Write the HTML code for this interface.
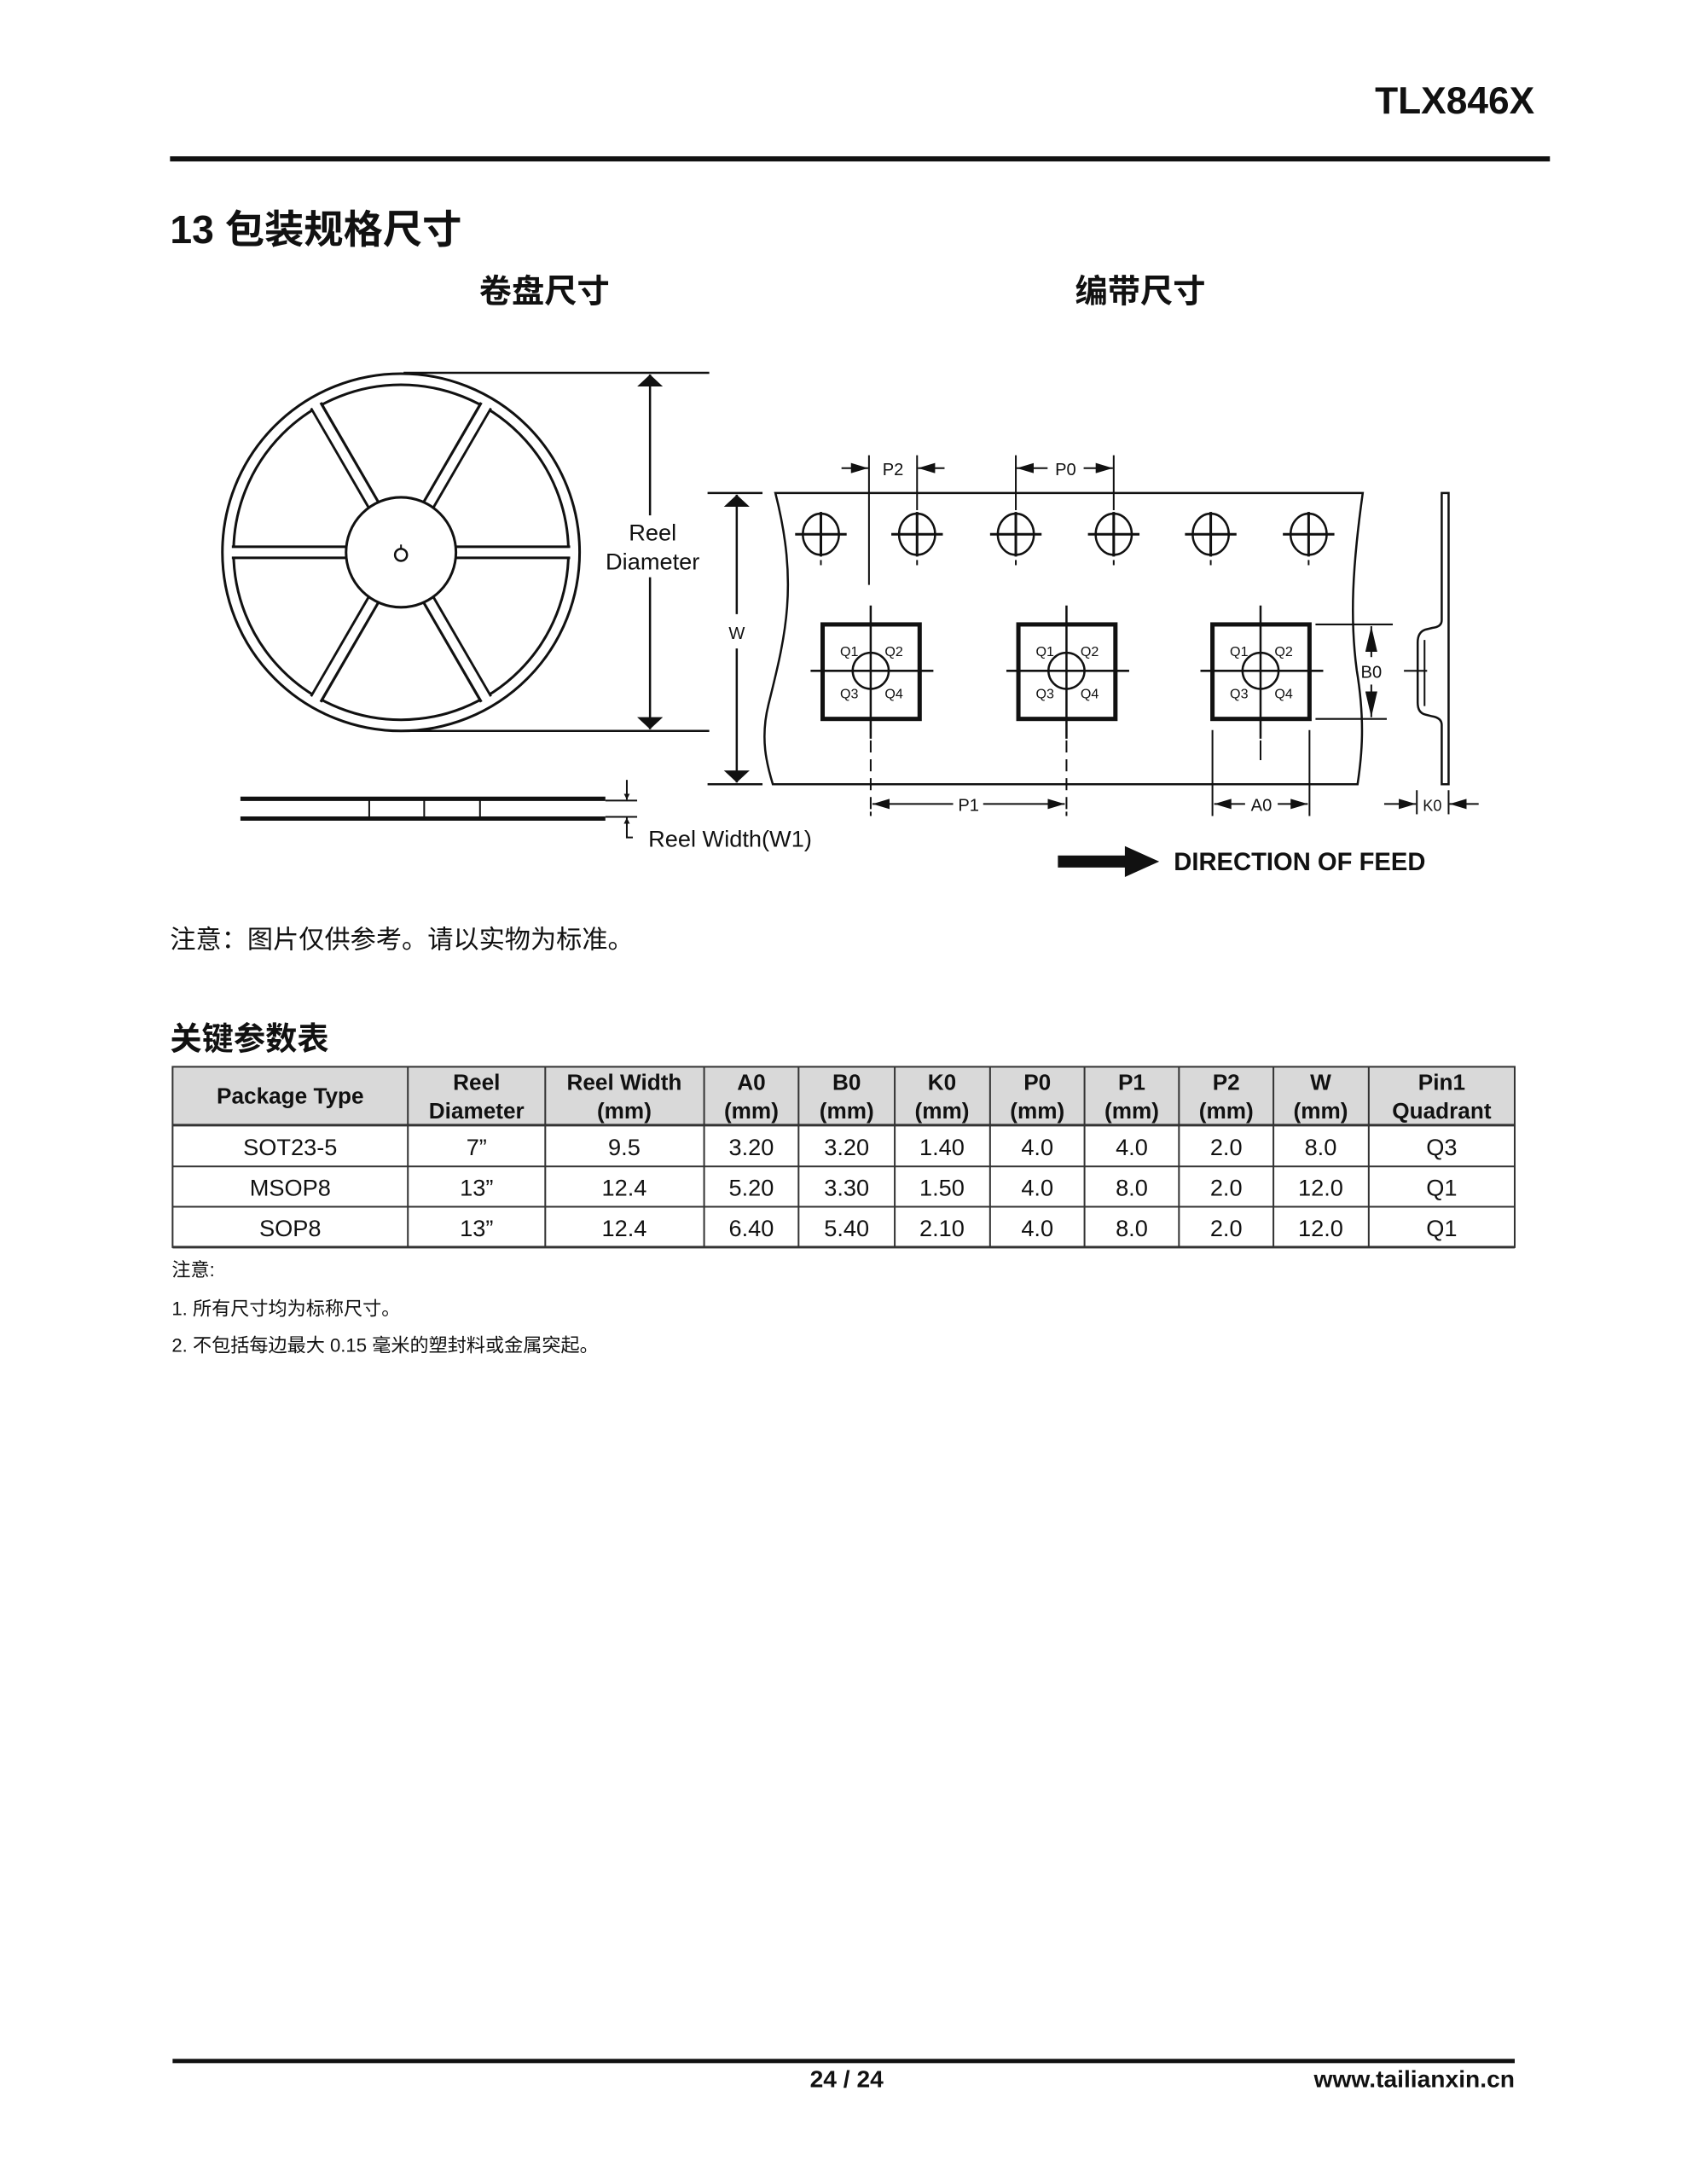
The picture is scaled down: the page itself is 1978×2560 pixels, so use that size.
<!DOCTYPE html>
<html><head><meta charset="utf-8"><style>
html,body{margin:0;padding:0;background:#fff}
svg{display:block}
text{font-family:"Liberation Sans","Noto Sans CJK SC",sans-serif;fill:#111}
</style></head><body>
<svg width="1978" height="2560" viewBox="0 0 1978 2560" xmlns="http://www.w3.org/2000/svg">
<defs>
<marker id="ah" viewBox="0 0 10 10" refX="10" refY="5" markerWidth="7" markerHeight="7" markerUnits="userSpaceOnUse" orient="auto-start-reverse">
<path d="M0,0 L10,5 L0,10 z" fill="#111"/></marker>
<marker id="ahs" viewBox="0 0 10 10" refX="10" refY="5" markerWidth="20" markerHeight="12" markerUnits="userSpaceOnUse" orient="auto-start-reverse" preserveAspectRatio="none">
<path d="M0,0 L10,5 L0,10 z" fill="#111"/></marker>
<marker id="ahb" viewBox="0 0 10 10" refX="10" refY="5" markerWidth="14" markerHeight="30" markerUnits="userSpaceOnUse" orient="auto-start-reverse" preserveAspectRatio="none">
<path d="M0,0 L10,5 L0,10 z" fill="#111"/></marker>
<marker id="ahv" viewBox="0 0 10 10" refX="10" refY="5" markerWidth="30" markerHeight="14" markerUnits="userSpaceOnUse" orient="auto-start-reverse" preserveAspectRatio="none">
<path d="M0,0 L10,5 L0,10 z" fill="#111"/></marker>
</defs>
<g transform="scale(1.0068)">
<!-- header -->
<text x="1787" y="132" text-anchor="end" font-size="44" font-weight="bold">TLX846X</text>
<rect x="198" y="182" width="1607" height="6" fill="#111"/>
<text x="198" y="283" font-size="46" font-weight="bold">13 包装规格尺寸</text>
<text x="634" y="352" text-anchor="middle" font-size="38" font-weight="bold">卷盘尺寸</text>
<text x="1328" y="352" text-anchor="middle" font-size="38" font-weight="bold">编带尺寸</text>

<!-- reel -->
<g stroke="#111" fill="none">
<circle cx="467" cy="643" r="208" stroke-width="3"/>
<circle cx="467" cy="643" r="195" stroke-width="3"/>
<g stroke-width="16" stroke-linecap="butt">
<line x1="467" y1="643" x2="664" y2="643"/><line x1="467" y1="643" x2="270" y2="643"/>
<line x1="467" y1="643" x2="566" y2="472"/><line x1="467" y1="643" x2="368" y2="472"/>
<line x1="467" y1="643" x2="566" y2="814"/><line x1="467" y1="643" x2="368" y2="814"/>
</g>
<g stroke="#fff" stroke-width="10">
<line x1="467" y1="643" x2="667" y2="643"/><line x1="467" y1="643" x2="267" y2="643"/>
<line x1="467" y1="643" x2="568" y2="469"/><line x1="467" y1="643" x2="366" y2="469"/>
<line x1="467" y1="643" x2="568" y2="817"/><line x1="467" y1="643" x2="366" y2="817"/>
</g>
<circle cx="467" cy="643" r="64" stroke-width="3" fill="#fff"/>
<circle cx="467" cy="646" r="7" stroke-width="2.5"/>
<line x1="467" y1="634" x2="467" y2="639" stroke-width="2"/>
</g>
<!-- reel diameter dim -->
<g stroke="#111" stroke-width="2.5" fill="none">
<line x1="470" y1="434" x2="826" y2="434"/>
<line x1="470" y1="851" x2="826" y2="851"/>
<line x1="757" y1="436" x2="757" y2="600" marker-start="url(#ahb)"/>
<line x1="757" y1="672" x2="757" y2="849" marker-end="url(#ahb)"/>
</g>
<text x="760" y="629" text-anchor="middle" font-size="27">Reel</text>
<text x="760" y="663" text-anchor="middle" font-size="27">Diameter</text>
<!-- side view -->
<g stroke="#111" fill="none">
<line x1="280" y1="930" x2="705" y2="930" stroke-width="5"/>
<line x1="280" y1="953" x2="705" y2="953" stroke-width="5"/>
<line x1="705" y1="932" x2="742" y2="932" stroke-width="2"/>
<line x1="705" y1="951" x2="742" y2="951" stroke-width="2"/>
<line x1="430" y1="930" x2="430" y2="953" stroke-width="2"/>
<line x1="494" y1="930" x2="494" y2="953" stroke-width="2"/>
<line x1="559" y1="930" x2="559" y2="953" stroke-width="2"/>
<line x1="730" y1="908" x2="730" y2="931" stroke-width="2" marker-end="url(#ah)"/>
<polyline points="737,975 730,975 730,952" stroke-width="2" marker-end="url(#ah)"/>
</g>
<text x="755" y="986" font-size="27">Reel Width(W1)</text>

<!-- tape -->
<g stroke="#111" fill="none" stroke-width="2.5">
<path d="M903 574 L1587 574 C1575 660 1572 720 1580 780 C1590 840 1586 880 1581 913 L900 913 C893 890 885 860 895 820 C915 740 930 680 903 574 Z" fill="#fff"/>
<line x1="824" y1="574" x2="888" y2="574"/>
<line x1="824" y1="913" x2="888" y2="913"/>
<line x1="858" y1="576" x2="858" y2="715" marker-start="url(#ahb)"/>
<line x1="858" y1="755" x2="858" y2="911" marker-end="url(#ahb)"/>
</g>
<text x="858" y="744" text-anchor="middle" font-size="20">W</text>
<!-- sprocket holes -->
<g stroke="#111" fill="none" stroke-width="2.5">
<g id="hole"><ellipse cx="956" cy="622" rx="21" ry="24"/><line x1="926" y1="622" x2="986" y2="622" stroke-width="3"/><line x1="956" y1="596" x2="956" y2="648" stroke-width="3"/><line x1="956" y1="652" x2="956" y2="658" stroke-width="2"/></g>
<use href="#hole" x="112"/><use href="#hole" x="227"/><use href="#hole" x="341"/><use href="#hole" x="454"/><use href="#hole" x="568"/>
</g>
<!-- P2, P0 -->
<g stroke="#111" stroke-width="2" fill="none">
<line x1="1012" y1="530" x2="1012" y2="681"/>
<line x1="1068" y1="530" x2="1068" y2="594"/>
<line x1="1183" y1="530" x2="1183" y2="594"/>
<line x1="1297" y1="530" x2="1297" y2="594"/>
<line x1="980" y1="545" x2="1011" y2="545" marker-end="url(#ahs)"/>
<line x1="1100" y1="545" x2="1069" y2="545" marker-end="url(#ahs)"/>
<line x1="1184" y1="545" x2="1220" y2="545" marker-start="url(#ahs)"/>
<line x1="1262" y1="545" x2="1296" y2="545" marker-end="url(#ahs)"/>
</g>
<text x="1040" y="553" text-anchor="middle" font-size="20">P2</text>
<text x="1241" y="553" text-anchor="middle" font-size="20">P0</text>
<!-- pockets -->
<g id="pk">
<rect x="958" y="727" width="113" height="110" stroke="#111" stroke-width="5" fill="none"/>
<circle cx="1014" cy="781" r="21" stroke="#111" stroke-width="2.5" fill="none"/>
<line x1="944" y1="781" x2="1087" y2="781" stroke="#111" stroke-width="2.5"/>
<line x1="1014" y1="705" x2="1014" y2="860" stroke="#111" stroke-width="2.5"/>
<text x="989" y="764" text-anchor="middle" font-size="16">Q1</text>
<text x="1041" y="764" text-anchor="middle" font-size="16">Q2</text>
<text x="989" y="813" text-anchor="middle" font-size="16">Q3</text>
<text x="1041" y="813" text-anchor="middle" font-size="16">Q4</text>
</g>
<use href="#pk" x="228"/>
<use href="#pk" x="454"/>
<g stroke="#111" stroke-width="2" fill="none">
<line x1="1014" y1="862" x2="1014" y2="945" stroke-dasharray="14,8"/>
<line x1="1242" y1="862" x2="1242" y2="945" stroke-dasharray="14,8"/>
<line x1="1014" y1="945" x2="1014" y2="950"/><line x1="1242" y1="945" x2="1242" y2="950"/>
<line x1="1016" y1="936" x2="1110" y2="936" marker-start="url(#ahs)"/>
<line x1="1145" y1="936" x2="1240" y2="936" marker-end="url(#ahs)"/>
<line x1="1468" y1="862" x2="1468" y2="885"/>
<line x1="1412" y1="850" x2="1412" y2="950"/>
<line x1="1525" y1="850" x2="1525" y2="950"/>
<line x1="1414" y1="936" x2="1450" y2="936" marker-start="url(#ahs)"/>
<line x1="1488" y1="936" x2="1523" y2="936" marker-end="url(#ahs)"/>
<line x1="1532" y1="727" x2="1622" y2="727"/>
<line x1="1532" y1="837" x2="1615" y2="837"/>
<line x1="1597" y1="729" x2="1597" y2="765" marker-start="url(#ahv)"/>
<line x1="1597" y1="797" x2="1597" y2="835" marker-end="url(#ahv)"/>
</g>
<text x="1128" y="944" text-anchor="middle" font-size="20">P1</text>
<text x="1469" y="944" text-anchor="middle" font-size="20">A0</text>
<text x="1597" y="789" text-anchor="middle" font-size="20">B0</text>
<!-- side profile -->
<g stroke="#111" fill="none" stroke-width="2.5">
<path d="M1679 574 L1679 722 Q1679 730 1668 731 L1660 733 Q1651 736 1651 748 L1651 818 Q1651 830 1660 832 L1668 834 Q1679 836 1679 844 L1679 913 L1687 913 L1687 574 Z"/>
<line x1="1659" y1="745" x2="1659" y2="822" stroke-width="2"/>
<line x1="1635" y1="781" x2="1662" y2="781" stroke-width="2"/>
<line x1="1650" y1="920" x2="1650" y2="948" stroke-width="2"/>
<line x1="1687" y1="920" x2="1687" y2="948" stroke-width="2"/>
<line x1="1612" y1="936" x2="1649" y2="936" stroke-width="2" marker-end="url(#ahs)"/>
<line x1="1722" y1="936" x2="1688" y2="936" stroke-width="2" marker-end="url(#ahs)"/>
</g>
<text x="1668" y="944" text-anchor="middle" font-size="18">K0</text>
<!-- feed -->
<rect x="1232" y="996" width="80" height="14" fill="#111"/>
<polygon points="1310,985 1350,1003 1310,1021" fill="#111"/>
<text x="1367" y="1013" font-size="29" font-weight="bold">DIRECTION OF FEED</text>

<text x="198" y="1104" font-size="30">注意：图片仅供参考。请以实物为标准。</text>
<text x="198" y="1222" font-size="37" font-weight="bold">关键参数表</text>

<!-- table -->
<rect x="201" y="1242" width="1563" height="68" fill="#d9d9d9"/>
<g stroke="#333" stroke-width="2" fill="none">
<rect x="201" y="1242" width="1563" height="210"/>
<line x1="201" y1="1310" x2="1764" y2="1310" stroke-width="3"/>
<line x1="201" y1="1358" x2="1764" y2="1358"/>
<line x1="201" y1="1405" x2="1764" y2="1405"/>
<line x1="201" y1="1452" x2="1764" y2="1452" stroke-width="3"/>
<line x1="475" y1="1242" x2="475" y2="1452"/><line x1="635" y1="1242" x2="635" y2="1452"/>
<line x1="820" y1="1242" x2="820" y2="1452"/><line x1="930" y1="1242" x2="930" y2="1452"/>
<line x1="1042" y1="1242" x2="1042" y2="1452"/><line x1="1153" y1="1242" x2="1153" y2="1452"/>
<line x1="1263" y1="1242" x2="1263" y2="1452"/><line x1="1373" y1="1242" x2="1373" y2="1452"/>
<line x1="1483" y1="1242" x2="1483" y2="1452"/><line x1="1594" y1="1242" x2="1594" y2="1452"/>
</g>
<g font-size="26" font-weight="bold" text-anchor="middle">
<text x="338" y="1285">Package Type</text>
<text x="555" y="1269">Reel</text><text x="555" y="1302">Diameter</text>
<text x="727" y="1269">Reel Width</text><text x="727" y="1302">(mm)</text>
<text x="875" y="1269">A0</text><text x="875" y="1302">(mm)</text>
<text x="986" y="1269">B0</text><text x="986" y="1302">(mm)</text>
<text x="1097" y="1269">K0</text><text x="1097" y="1302">(mm)</text>
<text x="1208" y="1269">P0</text><text x="1208" y="1302">(mm)</text>
<text x="1318" y="1269">P1</text><text x="1318" y="1302">(mm)</text>
<text x="1428" y="1269">P2</text><text x="1428" y="1302">(mm)</text>
<text x="1538" y="1269">W</text><text x="1538" y="1302">(mm)</text>
<text x="1679" y="1269">Pin1</text><text x="1679" y="1302">Quadrant</text>
</g>
<g font-size="27" text-anchor="middle">
<text x="338" y="1345">SOT23-5</text><text x="555" y="1345">7”</text><text x="727" y="1345">9.5</text><text x="875" y="1345">3.20</text><text x="986" y="1345">3.20</text><text x="1097" y="1345">1.40</text><text x="1208" y="1345">4.0</text><text x="1318" y="1345">4.0</text><text x="1428" y="1345">2.0</text><text x="1538" y="1345">8.0</text><text x="1679" y="1345">Q3</text>
<text x="338" y="1392">MSOP8</text><text x="555" y="1392">13”</text><text x="727" y="1392">12.4</text><text x="875" y="1392">5.20</text><text x="986" y="1392">3.30</text><text x="1097" y="1392">1.50</text><text x="1208" y="1392">4.0</text><text x="1318" y="1392">8.0</text><text x="1428" y="1392">2.0</text><text x="1538" y="1392">12.0</text><text x="1679" y="1392">Q1</text>
<text x="338" y="1439">SOP8</text><text x="555" y="1439">13”</text><text x="727" y="1439">12.4</text><text x="875" y="1439">6.40</text><text x="986" y="1439">5.40</text><text x="1097" y="1439">2.10</text><text x="1208" y="1439">4.0</text><text x="1318" y="1439">8.0</text><text x="1428" y="1439">2.0</text><text x="1538" y="1439">12.0</text><text x="1679" y="1439">Q1</text>
</g>
<g font-size="22">
<text x="200" y="1486">注意:</text>
<text x="200" y="1531">1. 所有尺寸均为标称尺寸。</text>
<text x="200" y="1574">2. 不包括每边最大 0.15 毫米的塑封料或金属突起。</text>
</g>

<!-- footer -->
<rect x="201" y="2397" width="1563" height="5" fill="#111"/>
<text x="986" y="2430" text-anchor="middle" font-size="28" font-weight="bold">24 / 24</text>
<text x="1764" y="2430" text-anchor="end" font-size="28" font-weight="bold">www.tailianxin.cn</text>
</g>
</svg>
</body></html>
